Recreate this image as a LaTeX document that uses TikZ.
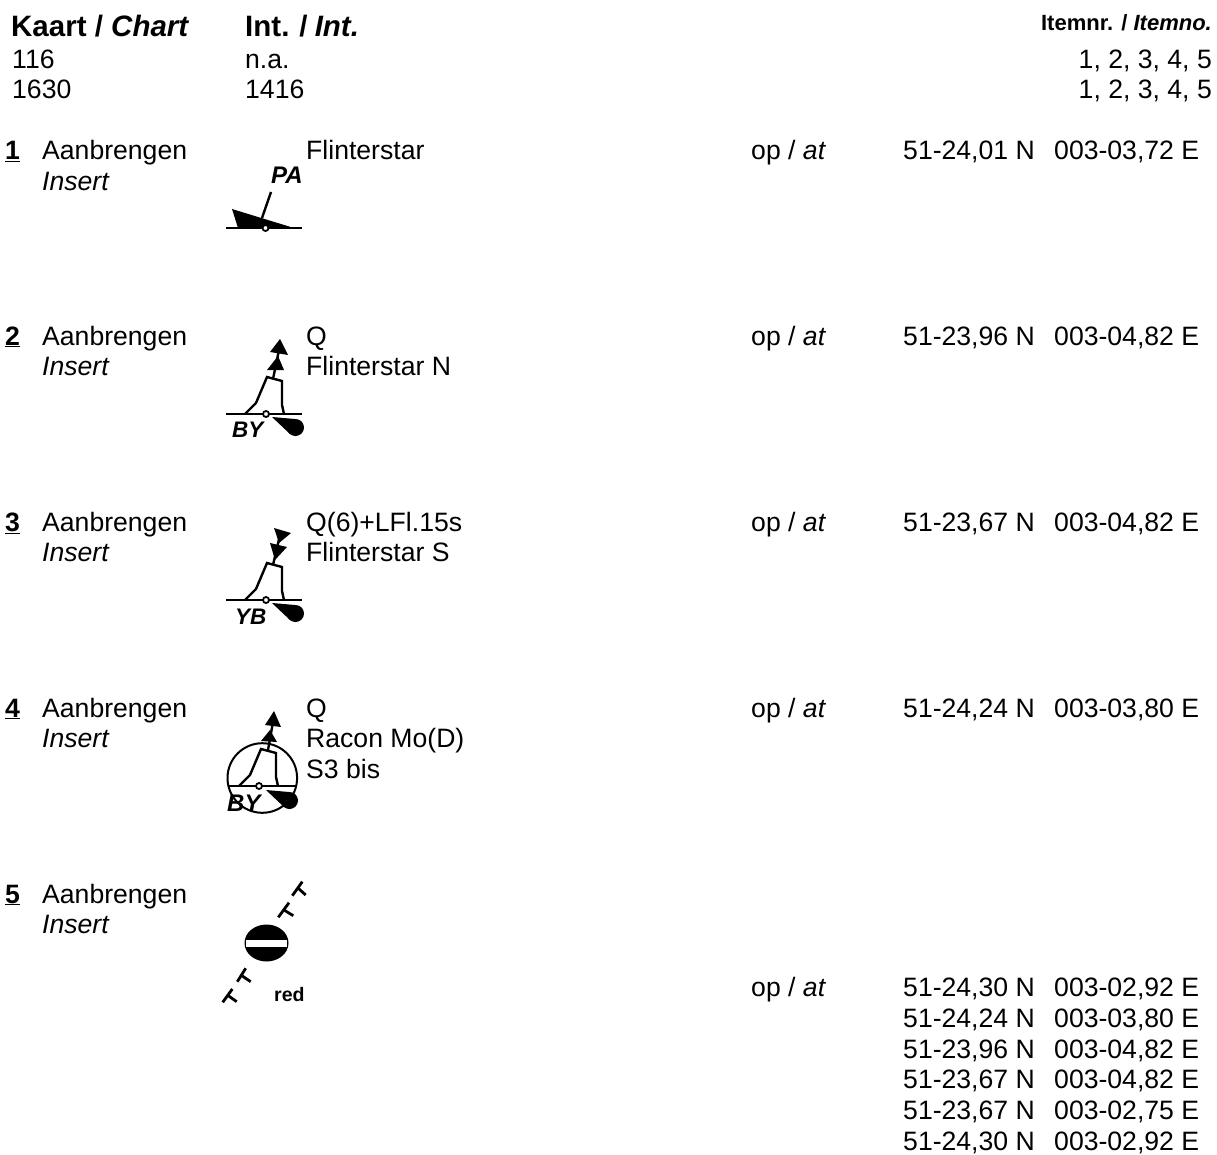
\documentclass[tikz,border=0pt]{standalone}
\usepackage{fontspec}
\setmainfont{Liberation Sans}
\tikzset{
  tx/.style={anchor=base west,inner sep=0pt,font=\fontsize{26.6}{30}\selectfont},
  txr/.style={anchor=base east,inner sep=0pt,font=\fontsize{26.6}{30}\selectfont},
  hd/.style={anchor=base west,inner sep=0pt,font=\fontsize{29.5}{33}\selectfont\bfseries},
  hdr/.style={anchor=base east,inner sep=0pt,font=\fontsize{22}{26}\selectfont\bfseries},
  sym/.style={anchor=base west,inner sep=0pt,font=\fontsize{24}{28}\selectfont\bfseries\itshape},
  symb/.style={sym,font=\fontsize{22.5}{26}\selectfont\bfseries\itshape},
  redtx/.style={anchor=base west,inner sep=0pt,font=\fontsize{19.5}{22}\selectfont\bfseries},
  ln/.style={line width=2.4pt,line join=miter},
  hole/.style={fill=white,draw=black,line width=1.8pt},
  tick/.style={line width=2.8pt}
}
\newcommand{\numl}[1]{\textbf{\underline{#1}}}
\newcommand{\buoyshape}[1]{%
  \begin{scope}[shift={#1}]
    \draw[ln] (-21,0)--(-10,-11)--(1,-37)--(16,-33)--(16,-9)--(18,0);
  \end{scope}}
\newcommand{\teardrop}[1]{%
  \begin{scope}[shift={#1}]
    \fill (0,0)--(23,2)--(23.5,19)--(18,17)--cycle;
    \fill (23.5,10.5) circle[radius=8.5];
  \end{scope}}
\begin{document}
\begin{tikzpicture}[x=1pt,y=-1pt]
\useasboundingbox (0,0) rectangle (1217,1155);
\fill[white] (0,0) rectangle (1217,1155);
% header
\node[hd] (h1) at (11,37) {Kaart / \textit{Chart}};
\node[hd] (h2) at (245,37) {Int.\hspace{-1pt} /\hspace{-1pt} \textit{Int.}};
\node[hdr] (h3) at (1212,31) {Itemnr. / \textit{Itemno.}};
\node[tx] (a1) at (12,69) {116};
\node[tx] (a2) at (245,69) {n.a.};
\node[txr] (a3) at (1212,69) {1, 2, 3, 4, 5};
\node[tx] (b1) at (12,99) {1630};
\node[tx] (b2) at (245,99) {1416};
\node[txr] (b3) at (1212,99) {1, 2, 3, 4, 5};
% rows
\node[tx] (n1) at (5,160) {\numl{1}};
\node[tx] (n2) at (5,345) {\numl{2}};
\node[tx] (n3) at (5,531) {\numl{3}};
\node[tx] (n4) at (5,717) {\numl{4}};
\node[tx] (n5) at (5,903) {\numl{5}};
\node[tx] (v1) at (42,160) {Aanbrengen};
\node[tx] (w1) at (42,191) {\textit{Insert}};
\foreach \y/\k in {345/2,531/3,717/4,903/5}{
  \node[tx] (v\k) at (42,\y) {Aanbrengen};
  \node[tx] (w\k) at (42,\y+30) {\textit{Insert}};
}
\node[tx] (t1) at (306,160) {Flinterstar};
\node[tx] (t2) at (306,345) {Q};
\node[tx] (t2b) at (306,375) {Flinterstar N};
\node[tx] (t3) at (306,531) {Q(6)+LFl.15s};
\node[tx] (t3b) at (306,561) {Flinterstar S};
\node[tx] (t4) at (306,717) {Q};
\node[tx] (t4b) at (306,747) {Racon Mo(D)};
\node[tx] (t4c) at (306,778) {S3 bis};
\foreach \y/\k in {160/1,345/2,531/3,717/4,996/5}{
  \node[tx] (o\k) at (751,\y) {op / \textit{at}};
}
\node[tx] (c1) at (903,160) {51-24,01 N};
\node[tx] (d1) at (1054,160) {003-03,72 E};
\node[tx] (c2) at (903,345) {51-23,96 N};
\node[tx] (d2) at (1054,345) {003-04,82 E};
\node[tx] (c3) at (903,531) {51-23,67 N};
\node[tx] (d3) at (1054,531) {003-04,82 E};
\node[tx] (c4) at (903,717) {51-24,24 N};
\node[tx] (d4) at (1054,717) {003-03,80 E};
\node[tx] (ea) at (903,996) {51-24,30 N};
\node[tx] (fa) at (1054,996) {003-02,92 E};
\node[tx] (eb) at (903,1027) {51-24,24 N};
\node[tx] (fb) at (1054,1027) {003-03,80 E};
\node[tx] (ec) at (903,1058) {51-23,96 N};
\node[tx] (fc) at (1054,1058) {003-04,82 E};
\node[tx] (ed) at (903,1088) {51-23,67 N};
\node[tx] (fd) at (1054,1088) {003-04,82 E};
\node[tx] (ee) at (903,1119) {51-23,67 N};
\node[tx] (fe) at (1054,1119) {003-02,75 E};
\node[tx] (ef) at (903,1150) {51-24,30 N};
\node[tx] (ff) at (1054,1150) {003-02,92 E};
% symbol 1
\draw[ln] (226,228)--(302,228);
\fill (232,209)--(238,228)--(294,228)--cycle;
\draw[ln] (271,192)--(262,218);
\draw[hole] (265.5,228) circle[radius=3];
\node[sym] (s1) at (271,184) {PA};
% symbol 2
\draw[ln] (226,414)--(302,414);
\buoyshape{(266,414)}
\draw[ln] (273,379)--(279,350);
\fill (280,339)--(270,352)--(288,355)--cycle;
\fill (278,356)--(267,370)--(284,370)--cycle;
\draw[hole] (266,414) circle[radius=3];
\teardrop{(272,417)}
\node[symb] (s2) at (232,437) {BY};
% symbol 3
\draw[ln] (226,600)--(302,600);
\buoyshape{(266,600)}
\draw[ln] (273,565)--(280,535);
\fill (274,528)--(291,533)--(279,543)--cycle;
\fill (270,543)--(287,547)--(275,560)--cycle;
\draw[hole] (266,600) circle[radius=3];
\teardrop{(272,603)}
\node[symb] (s3) at (235,624.5) {YB};
% symbol 4
\draw[line width=2pt] (262.3,778) circle[radius=34.8];
\draw[ln] (228,786)--(297,786);
\buoyshape{(260,786)}
\draw[ln] (268,750)--(273,722);
\fill (274,711)--(265,725)--(281,727)--cycle;
\fill (270,730)--(261,741)--(277,742)--cycle;
\draw[hole] (259,786) circle[radius=3];
\teardrop{(266,790)}
\node[sym] (s4) at (227,811) {BY};
% symbol 5
\fill (266.5,943) ellipse[x radius=22,y radius=18.5];
\fill[white] (246,940) rectangle (287,947);
\draw[tick] (292.3,895.7)--(302.3,881.7) (298.3,888.3)--(305.7,895);
\draw[tick] (278.3,917.3)--(289,902.7) (284,910)--(293.3,915.7);
\draw[tick] (237.3,981.7)--(245.7,968.3) (242.3,976)--(250.7,981.7);
\draw[tick] (222.7,1002.3)--(232.3,989) (228.3,995.7)--(236.7,1001.7);
\node[redtx] (r5) at (274,1001) {red};
\end{tikzpicture}
\end{document}
